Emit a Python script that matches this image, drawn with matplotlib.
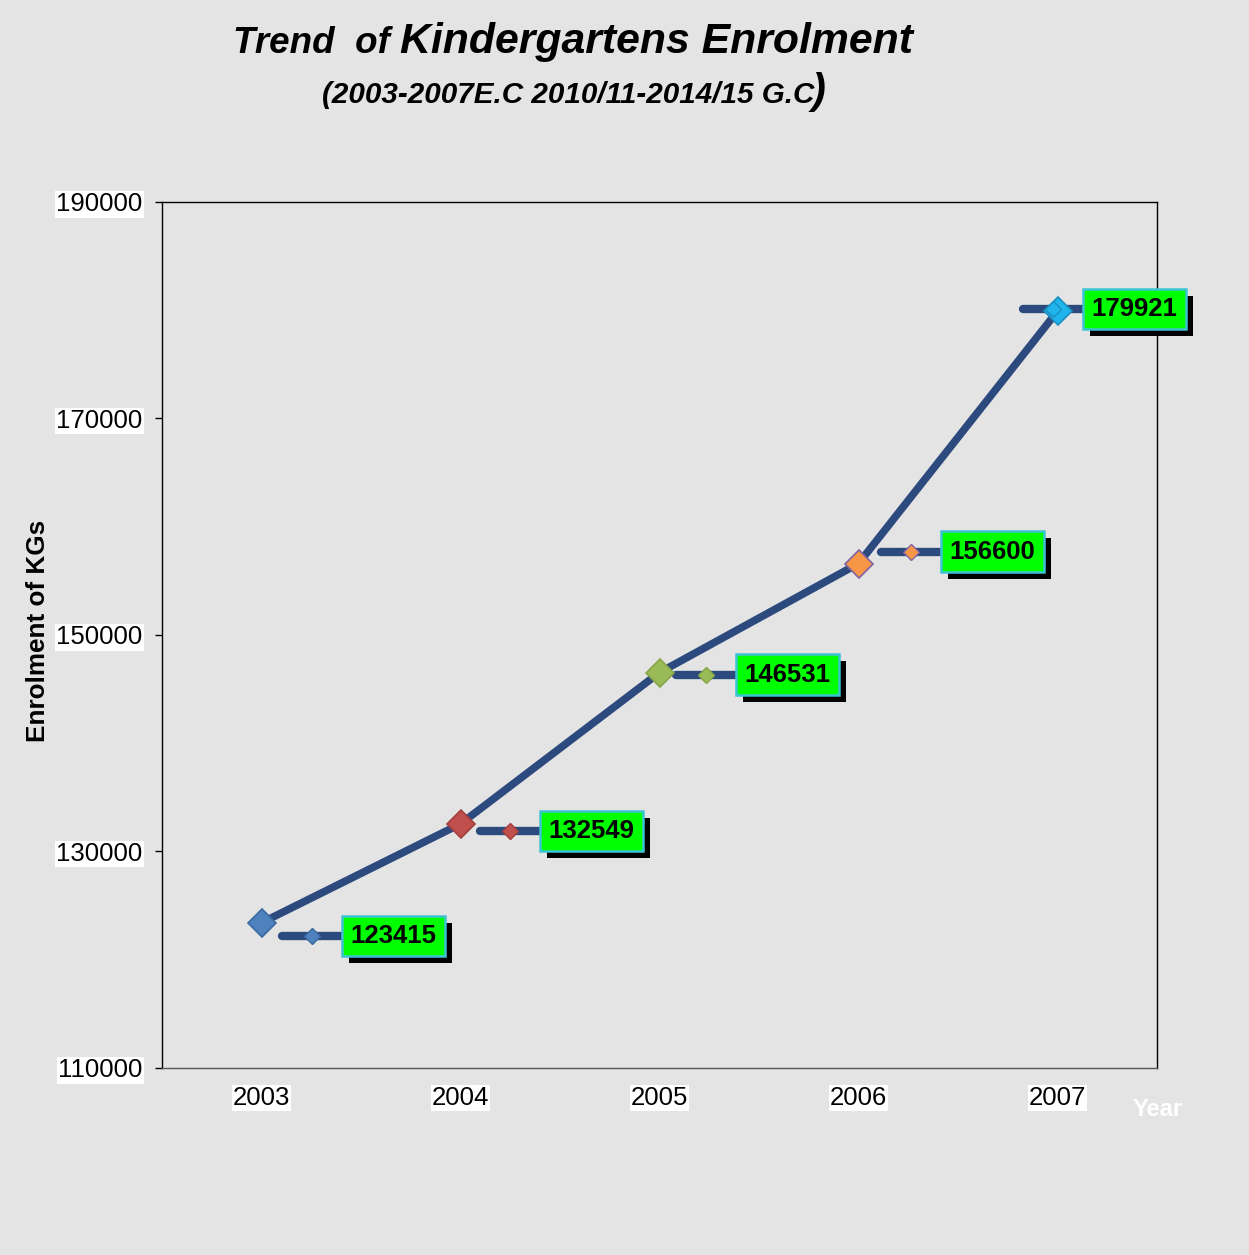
import matplotlib
matplotlib.use("Agg")
import matplotlib.pyplot as plt
import matplotlib.patheffects as pe
import numpy as np

# ── Data ───────────────────────────────────────────────────────
years = ["2003", "2004", "2005", "2006", "2007"]
enrolment = [123415, 132549, 146531, 156600, 179921]
y_ticks = [110000, 130000, 150000, 170000, 190000]

# per-point style (Excel "vary colors by point")
point_colors = ["#4f81bd", "#c0504d", "#9bbb59", "#f79646", "#1fb5ec"]
point_edges = ["#3a6aa3", "#a23f3c", "#86a648", "#8064a2", "#1a8fc0"]
# label box centre offset from its point, in pixels (right, down)
label_offsets = [(132, 13), (131, 7), (128, 2), (134, -12), (77, -2)]

LINE = "#2c4a7e"
BG = "#e4e4e4"
FONT = "Liberation Sans"

fig = plt.figure(figsize=(12.49, 12.55), dpi=100, facecolor=BG)
W, H = 1249, 1255
ax = fig.add_axes([162 / W, 1 - 1068 / H, 995 / W, 866 / H])
ax.set_facecolor(BG)

x = np.arange(len(years))
ax.plot(x, enrolment, color=LINE, lw=5.5, solid_capstyle="round", zorder=3)
for i, v in enumerate(enrolment):
    ax.plot(i, v, marker="D", ms=14, color=point_colors[i],
            mec=point_edges[i], mew=1.2, zorder=4)

ax.set_xlim(-0.5, len(years) - 0.5)
ax.set_ylim(110000, 190000)
ax.set_yticks(y_ticks)
ax.set_xticks(x)
ax.set_xticklabels(years)
ax.tick_params(axis="y", length=5, width=1, direction="out", pad=9)
ax.tick_params(axis="x", length=0, pad=13)
for lab in ax.get_xticklabels() + ax.get_yticklabels():
    lab.set_fontfamily(FONT)
    lab.set_fontsize(18.5)
    lab.set_bbox(dict(facecolor="white", edgecolor="none", pad=1))
for s in ax.spines.values():
    s.set_color("black")
    s.set_linewidth(1)
ax.spines["bottom"].set_color("#555555")

# data labels with leader lines (pixel offsets converted to data coords)
to_data = ax.transData.inverted()
for i, v in enumerate(enrolment):
    dx, dy = label_offsets[i]
    px, py = ax.transData.transform((i, v))
    ly = py - dy
    (x0, y0), (x1, _), (xm, _) = to_data.transform(
        [(px + dx - 112, ly), (px + dx - 52, ly), (px + dx - 82, ly)])
    ax.plot([x0, x1], [y0, y0], color=LINE, lw=6, solid_capstyle="round",
            zorder=3, clip_on=False)
    ax.plot(xm, y0, marker="D", ms=8, color=point_colors[i],
            mec=point_edges[i], mew=1, zorder=4, clip_on=False)
    cx, cy = to_data.transform((px + dx, ly))
    t = ax.text(cx, cy, f"{v}", ha="center", va="center", fontsize=18.5,
                fontweight="bold", family=FONT, zorder=6, clip_on=False,
                bbox=dict(boxstyle="square,pad=0.32", facecolor="#00ff00",
                          edgecolor="#3cc4d4", linewidth=1.8))
    t.get_bbox_patch().set_path_effects(
        [pe.SimplePatchShadow(offset=(5, -5), shadow_rgbFace="black", alpha=1),
         pe.Normal()])

# titles
fig.text(390 / W, 1 - 53 / H, "Trend  of", ha="right", va="baseline",
         fontsize=26.5, fontweight="bold", style="italic", family=FONT)
fig.text(400 / W, 1 - 53 / H, "Kindergartens Enrolment", ha="left",
         va="baseline", fontsize=30.8, fontweight="bold", style="italic",
         family=FONT)
fig.text(322 / W, 1 - 103 / H, "(2003-2007E.C 2010/11-2014/15 G.C",
         ha="left", va="baseline", fontsize=21.3, fontweight="bold",
         style="italic", family=FONT)
fig.text(812 / W, 1 - 103 / H, ")", ha="left", va="baseline", fontsize=30,
         fontweight="bold", style="italic", family=FONT)

fig.text(38 / W, 1 - 631 / H, "Enrolment of KGs", rotation=90, ha="center",
         va="center", fontsize=18.8, fontweight="bold", family=FONT)
fig.text(1158 / W, 1 - 1110 / H, "Year", ha="center", va="center",
         fontsize=17, fontweight="bold", color="white", family=FONT)

fig.savefig("out.png", dpi=100, facecolor=BG)
